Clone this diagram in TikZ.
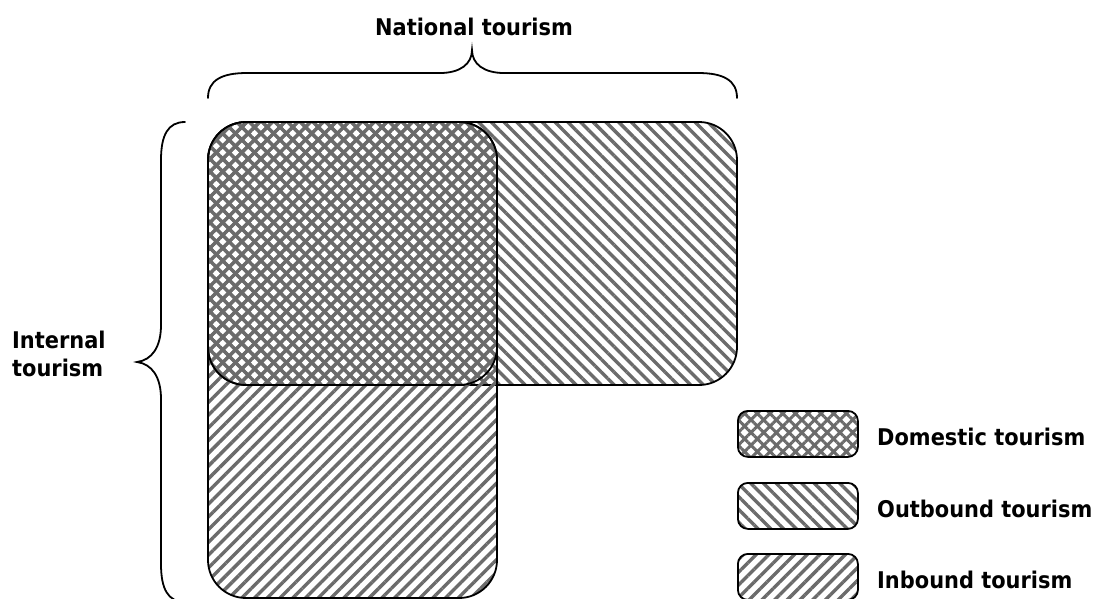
\documentclass[tikz,border=0pt]{standalone}
\usepackage{fontspec}
\setmainfont{DejaVu Sans}
\newfontfamily\lblfont[FakeStretch=0.91]{DejaVu Sans}
\usetikzlibrary{patterns.meta}
\tikzset{
  box/.style={line width=1.8pt, draw=black},
  outb/.style={box, pattern={Lines[angle=-45,distance=9pt,line width=3.4pt]}, pattern color=black!58},
  inb/.style={box, pattern={Lines[angle=45,distance=9pt,line width=3.4pt]}, pattern color=black!58},
  dome/.style={box, pattern={Hatch[angle=45,distance=9pt,line width=3pt]}, pattern color=black!58},
  lbl/.style={font=\lblfont\fontsize{23}{28}\selectfont\bfseries, inner sep=0pt},
  bracestyle/.style={line width=1.8pt, line cap=round}
}
\begin{document}
\begin{tikzpicture}[x=1pt,y=-1pt]
\useasboundingbox (0,0) rectangle (1097,598);
% main areas
\path[outb, rounded corners=38pt] (208,122) rectangle (737,385);
\path[inb, rounded corners=38pt] (208,122) rectangle (497,598);
\path[dome, rounded corners=38pt] (208,122) rectangle (497,385);
% top brace
\draw[bracestyle] (208,98) .. controls (208,80) and (222,73) .. (247,73) -- (440,73)
  .. controls (460,73) and (472,64) .. (472,50)
  .. controls (472,64) and (484,73) .. (504,73) -- (698,73)
  .. controls (723,73) and (737,80) .. (737,98);
\node[lbl, anchor=base] (nat) at (474,35) {National tourism};
% left brace
\draw[bracestyle] (185,122) .. controls (168,122) and (161,135) .. (161,160) -- (161,325)
  .. controls (161,347) and (152,360) .. (137,362)
  .. controls (152,364) and (161,377) .. (161,399) -- (161,564)
  .. controls (161,589) and (168,602) .. (185,602);
\node[lbl, anchor=base west] (int1) at (12,348) {Internal};
\node[lbl, anchor=base west] (int2) at (12,376) {tourism};
% legend
\node[dome, rounded corners=10pt, minimum width=120pt, minimum height=46pt, inner sep=0pt, anchor=north west] (ld) at (737,410) {};
\node[outb, rounded corners=10pt, minimum width=120pt, minimum height=46pt, inner sep=0pt, anchor=north west] (lo) at (737,482) {};
\node[inb, rounded corners=10pt, minimum width=120pt, minimum height=46pt, inner sep=0pt, anchor=north west] (li) at (737,553) {};
\node[lbl, anchor=base west] (tld) at (877,445) {Domestic tourism};
\node[lbl, anchor=base west] (tlo) at (877,517) {Outbound tourism};
\node[lbl, anchor=base west] (tli) at (877,588) {Inbound tourism};
\end{tikzpicture}
\end{document}
